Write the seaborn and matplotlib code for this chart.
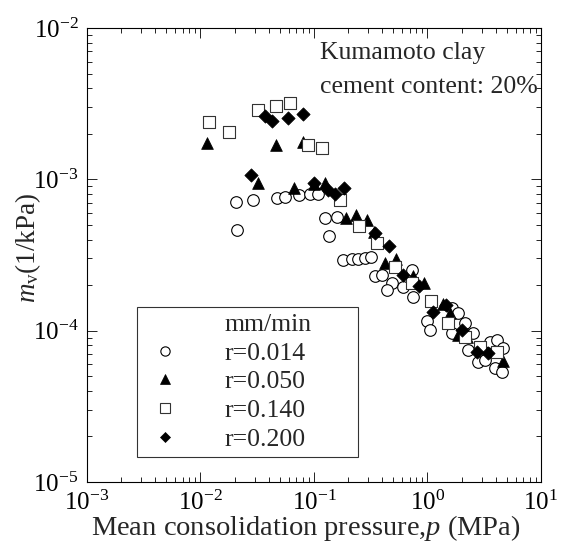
import matplotlib
matplotlib.use("Agg")
import matplotlib.pyplot as plt
import numpy as np
import pandas as pd
import seaborn as sns
from matplotlib.lines import Line2D
from matplotlib.ticker import LogLocator, NullFormatter

sns.set_theme(style="ticks")
plt.rcParams["font.family"] = ["Liberation Serif", "DejaVu Serif"]
plt.rcParams["mathtext.fontset"] = "custom"
plt.rcParams["mathtext.rm"] = "Liberation Serif"
plt.rcParams["mathtext.it"] = "Liberation Serif:italic"
plt.rcParams["mathtext.bf"] = "Liberation Serif:bold"

# Coefficient of volume compressibility m_v (1/kPa) vs mean consolidation pressure p (MPa)
rate_labels = ["r=0.014", "r=0.050", "r=0.140", "r=0.200"]

p_014 = [0.0206, 0.0210, 0.0290, 0.0472, 0.0555, 0.0738, 0.0923, 0.108,
         0.125, 0.160, 0.136, 0.180, 0.216, 0.244, 0.281, 0.318,
         0.344, 0.397, 0.486, 0.440, 0.608, 0.730, 0.745, 0.991,
         1.05, 1.64, 1.86, 2.14, 2.52, 1.64, 2.27, 2.79,
         3.56, 4.10, 4.62, 3.94, 4.53, 3.21]
mv_014 = [7.13e-4, 4.66e-4, 7.35e-4, 7.57e-4, 7.69e-4, 7.93e-4, 8.05e-4, 8.05e-4,
          5.51e-4, 5.60e-4, 4.19e-4, 2.91e-4, 2.96e-4, 2.96e-4, 3.00e-4, 3.05e-4,
          2.29e-4, 2.32e-4, 2.08e-4, 1.87e-4, 1.93e-4, 2.50e-4, 1.66e-4, 1.15e-4,
          1.01e-4, 1.41e-4, 1.30e-4, 1.12e-4, 9.62e-5, 9.62e-5, 7.43e-5, 6.19e-5,
          8.40e-5, 8.65e-5, 7.66e-5, 5.65e-5, 5.32e-5, 6.38e-5]

p_050 = [0.0114, 0.0462, 0.080, 0.0321, 0.0667, 0.100, 0.125, 0.191,
         0.234, 0.293, 0.338, 0.423, 0.528, 0.745, 0.931, 1.37,
         1.58, 1.86, 2.23, 4.62]
mv_050 = [1.75e-3, 1.69e-3, 1.77e-3, 9.50e-4, 8.81e-4, 9.37e-4, 9.50e-4, 5.51e-4,
          5.77e-4, 5.35e-4, 4.52e-4, 2.78e-4, 2.96e-4, 2.29e-4, 2.05e-4, 1.49e-4,
          1.30e-4, 9.33e-5, 9.05e-5, 6.28e-5]

p_140 = [0.0119, 0.0178, 0.0321, 0.0462, 0.0615, 0.0885, 0.1175, 0.169,
         0.249, 0.359, 0.517, 0.730, 1.07, 1.52, 2.14, 2.90, 4.10]
mv_140 = [2.40e-3, 2.06e-3, 2.88e-3, 3.06e-3, 3.21e-3, 1.69e-3, 1.62e-3, 7.35e-4,
          4.88e-4, 3.77e-4, 2.62e-4, 2.05e-4, 1.58e-4, 1.13e-4, 9.05e-5, 7.78e-5, 7.21e-5]

p_200 = [0.0370, 0.0427, 0.0590, 0.0800, 0.0279, 0.100, 0.133, 0.153,
         0.184, 0.344, 0.458, 0.608, 0.841, 1.12, 1.46, 2.01, 2.73, 3.41]
mv_200 = [2.63e-3, 2.44e-3, 2.55e-3, 2.71e-3, 1.06e-3, 9.50e-4, 8.55e-4, 8.05e-4,
          8.81e-4, 4.39e-4, 3.60e-4, 2.35e-4, 1.96e-4, 1.32e-4, 1.47e-4, 1.01e-4, 7.21e-5, 7.10e-5]

series = {
    "r=0.014": (p_014, mv_014),
    "r=0.050": (p_050, mv_050),
    "r=0.140": (p_140, mv_140),
    "r=0.200": (p_200, mv_200),
}
df = pd.concat(
    [pd.DataFrame({"p": p, "mv": mv, "rate": lab}) for lab, (p, mv) in series.items()],
    ignore_index=True,
)

marker_style = {
    "r=0.014": dict(marker="o", s=70, color="white", edgecolor="black", linewidth=0.8),
    "r=0.050": dict(marker="^", s=72, color="black", edgecolor="black", linewidth=0.5),
    "r=0.140": dict(marker="s", s=66, color="white", edgecolor="#333333", linewidth=0.8),
    "r=0.200": dict(marker="D", s=46, color="black", edgecolor="black", linewidth=0.5),
}

fig = plt.figure(figsize=(5.61, 5.53), dpi=100)
ax = fig.add_axes([0.155, 0.1284, 0.8093, 0.821])

for lab in rate_labels:
    sub = df[df["rate"] == lab]
    sns.scatterplot(data=sub, x="p", y="mv", ax=ax, legend=False, **marker_style[lab])

ax.set_xscale("log")
ax.set_yscale("log")
ax.set_xlim(1e-3, 1e1)
ax.set_ylim(1e-5, 1e-2)

for axis in (ax.xaxis, ax.yaxis):
    axis.set_major_locator(LogLocator(base=10, numticks=10))
    axis.set_minor_locator(LogLocator(base=10, subs=np.arange(2, 10), numticks=20))
    axis.set_minor_formatter(NullFormatter())

ax.tick_params(which="both", direction="in", top=True, right=True,
               colors="black", labelsize=18, width=0.6)
ax.tick_params(which="major", length=7, pad=6)
ax.tick_params(which="minor", length=3.5)
for sp in ax.spines.values():
    sp.set_linewidth(0.8)
    sp.set_color("black")

ax.set_xlabel("Mean consolidation pressure,$p$ (MPa)", fontsize=20.5, va="center")
ax.set_ylabel("$m_{\\mathrm{v}}$(1/kPa)", fontsize=19.5, va="center")
ax.xaxis.set_label_coords(0.483, -0.102)
ax.yaxis.set_label_coords(-0.13, 0.515)

ax.text(0.513, 0.945, "Kumamoto clay", transform=ax.transAxes,
        fontsize=18.5, ha="left", va="center")
ax.text(0.513, 0.870, "cement content: 20%", transform=ax.transAxes,
        fontsize=18.5, ha="left", va="center")

# legend with a header row for the unit of the loading rate
handles = [Line2D([], [], linestyle="none", marker="")]
labels = ["mm/min"]
for lab in rate_labels:
    st = marker_style[lab]
    handles.append(Line2D([], [], linestyle="none", marker=st["marker"],
                          markersize=np.sqrt(st["s"]) * 0.8,
                          markerfacecolor=st["color"], markeredgecolor=st["edgecolor"],
                          markeredgewidth=st["linewidth"]))
    labels.append(lab)

leg = ax.legend(handles, labels, loc="lower left", bbox_to_anchor=(0.110, 0.055, 0.487, 0.328),
                mode="expand", borderaxespad=0, fontsize=18.5, frameon=True, fancybox=False,
                handlelength=1.7, handletextpad=1.45, borderpad=0.25, labelspacing=0.22)
leg.get_frame().set_edgecolor("black")
leg.get_frame().set_linewidth(0.8)

fig.savefig("out.png", dpi=100)
